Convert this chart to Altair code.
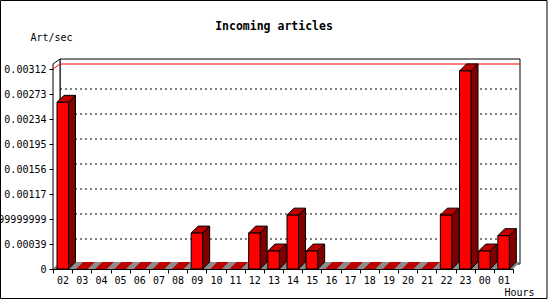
import json
import altair as alt
import pandas as pd

# ---- data ----
hours = ["02", "03", "04", "05", "06", "07", "08", "09", "10", "11", "12", "13",
         "14", "15", "16", "17", "18", "19", "20", "21", "22", "23", "00", "01"]
values = [0.0026, 0, 0, 0, 0, 0, 0, 0.00056, 0, 0, 0.00056, 0.00028,
          0.00084, 0.00028, 0, 0, 0, 0, 0, 0, 0.00084, 0.00309, 0.00028, 0.00052]
y_ticks = [0, 0.00039, 0.00078, 0.00117, 0.00156, 0.00195, 0.00234, 0.00273, 0.00312]
y_labels = ["0", "0.00039", "0.0007799999999", "0.00117", "0.00156", "0.00195",
            "0.00234", "0.00273", "0.00312"]
title_text = "Incoming articles"
y_title = "Art/sec"
x_title = "Hours"

# ---- layout ----
L, T, W, H = 53, 69, 460, 200
R, B = 550 - L - W, 300 - T - H
N = len(hours)
YMAX = y_ticks[-1]
px_x = N / W          # data units per pixel (x)
px_y = YMAX / H       # data units per pixel (y)

WALL_DX, WALL_DY = 7 * px_x, 5 * px_y
BAR_DX, BAR_DY = 7 * px_x, 7 * px_y
BAR_L, BAR_W = 4 * px_x, 11.5 * px_x
YTOP = YMAX + 5 * px_y

FONT = "DejaVu Sans Mono"
FRONT, TOP, SIDE, FLOOR = "#ff0000", "#bb0000", "#800000", "#8c8c8c"

xs = alt.Scale(domain=[0, N], nice=False, zero=False)
ys = alt.Scale(domain=[0, YMAX], nice=False, zero=False)

x_expr = f"{json.dumps(hours)}[datum.value] || ''"
y_expr = f"{json.dumps(y_labels)}[indexof({json.dumps(y_ticks)}, datum.value)]"

XAX = alt.Axis(
    values=list(range(N + 1)), labelExpr=x_expr, labelOffset=W / N / 2,
    tickSize=4, labelPadding=2, labelFlush=False, labelOverlap=False, labelBound=False,
    domain=True, domainColor="black", tickColor="black", grid=False,
    labelFont=FONT, labelFontSize=10, labelColor="black",
    title=x_title, titleFont=FONT, titleFontSize=10, titleFontWeight="normal",
    titleColor="black", titleAlign="left", titleBaseline="middle",
    titleX=504 - L, titleY=292 - (T + H), zindex=1,
)
YAX = alt.Axis(
    values=y_ticks, labelExpr=y_expr, tickSize=4, labelPadding=3,
    labelFlush=False, labelOverlap=False, labelBound=False,
    domain=False, tickColor="black", grid=False,
    labelFont=FONT, labelFontSize=10, labelColor="black",
    title=y_title, titleFont=FONT, titleFontSize=10, titleFontWeight="normal",
    titleColor="black", titleAngle=0, titleAlign="left", titleBaseline="middle",
    titleX=30 - L, titleY=37.5 - T, zindex=1,
)


def X(f):
    return alt.X(f, scale=xs, axis=XAX)


def Y(f):
    return alt.Y(f, scale=ys, axis=YAX)


# ---- derived tables ----
front_rows, side_rows, top_rows = [], [], []
for i, (h, v) in enumerate(zip(hours, values)):
    x0, x1 = i + BAR_L, i + BAR_L + BAR_W
    e = 1 if v > 0 else 0
    top_rows.append(dict(id=h, y=v, xa=x0, xb=x1, e=e))
    top_rows.append(dict(id=h, y=v + BAR_DY, xa=x0 + BAR_DX, xb=x1 + BAR_DX, e=e))
    if v > 0:
        front_rows.append(dict(id=h, x0=x0, x1=x1, y0=0, y1=v))
        side_rows.append(dict(id=h, x=x1, lo=0, hi=v))
        side_rows.append(dict(id=h, x=x1 + BAR_DX, lo=BAR_DY, hi=v + BAR_DY))
front = pd.DataFrame(front_rows)
side = pd.DataFrame(side_rows)
top = pd.DataFrame(top_rows)

one = alt.Data(values=[{}])

back_wall = alt.Chart(pd.DataFrame([dict(x0=WALL_DX, x1=N + WALL_DX, y0=WALL_DY, y1=YTOP + WALL_DY)])).mark_rect(
    fill="white", stroke="black", strokeWidth=1
).encode(x=X("x0:Q"), x2="x1:Q", y=Y("y0:Q"), y2="y1:Q")

left_wall = alt.Chart(pd.DataFrame([dict(x=0, lo=0, hi=YTOP), dict(x=WALL_DX, lo=WALL_DY, hi=YTOP + WALL_DY)])).mark_area(
    orient="vertical", fill="white", stroke="black", strokeWidth=1
).encode(x=X("x:Q"), y=Y("lo:Q"), y2="hi:Q")

grid = alt.Chart(pd.DataFrame(dict(t=y_ticks[1:-1]))).transform_calculate(
    xa=f"{WALL_DX}", xb=f"{N + WALL_DX}", yb=f"datum.t + {WALL_DY}"
).mark_rule(color="black", strokeDash=[2, 3], strokeWidth=1).encode(
    x=X("xa:Q"), x2="xb:Q", y=Y("yb:Q"),
)

red = alt.Chart(pd.DataFrame([dict(o=0, x=0, y=YMAX), dict(o=1, x=WALL_DX, y=YMAX + WALL_DY),
                              dict(o=2, x=N + WALL_DX, y=YMAX + WALL_DY)])).mark_line(
    color="red", strokeWidth=1
).encode(x=X("x:Q"), y=Y("y:Q"), order="o:Q")

floor = alt.Chart(pd.DataFrame([dict(y=0, xa=0, xb=N), dict(y=BAR_DY, xa=BAR_DX, xb=N + BAR_DX)])).mark_area(
    orient="horizontal", fill=FLOOR
).encode(y=Y("y:Q"), x=X("xa:Q"), x2="xb:Q")

tops = alt.Chart(top).mark_area(orient="horizontal", fill=TOP, stroke="black", strokeWidth=1).encode(
    y=Y("y:Q"), x=X("xa:Q"), x2="xb:Q", detail="id:N",
    strokeOpacity=alt.StrokeOpacity("e:Q", scale=None),
)

sides = alt.Chart(side).mark_area(orient="vertical", fill=SIDE, stroke="black", strokeWidth=1).encode(
    x=X("x:Q"), y=Y("lo:Q"), y2="hi:Q", detail="id:N",
)

fronts = alt.Chart(front).mark_rect(fill=FRONT, stroke="black", strokeWidth=1).encode(
    x=X("x0:Q"), x2="x1:Q", y=Y("y0:Q"), y2="y1:Q",
)

title = alt.Chart(one).mark_text(
    text=title_text, font=FONT, fontSize=11.5, fontWeight="bold", align="center", baseline="middle"
).encode(x=alt.value(274 - L), y=alt.value(27 - T))

frame = alt.Chart(one).mark_rect(fillOpacity=0, stroke="black", strokeWidth=1).encode(
    x=alt.value(0.5 - L), x2=alt.value(547 - L), y=alt.value(0.5 - T), y2=alt.value(298.5 - T)
)

chart = alt.layer(
    back_wall, left_wall, grid, red, floor, tops, sides, fronts, title, frame
).properties(
    width=W, height=H,
    autosize=alt.AutoSizeParams(type="none"),
    padding={"left": L, "top": T, "right": R, "bottom": B},
).configure_view(stroke=None).configure(background="white")

chart.save("out.html", embed_options={"renderer": "svg", "actions": False})
